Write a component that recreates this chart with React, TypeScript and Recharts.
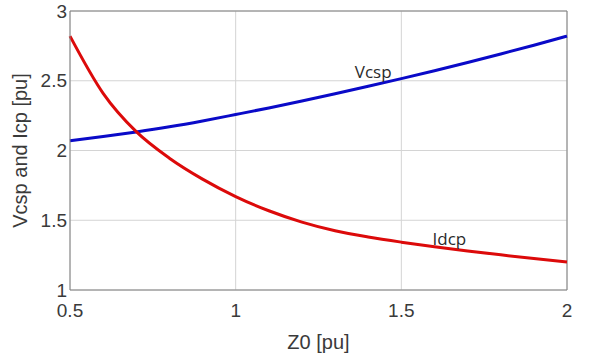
import React from 'react';
import { LineChart, Line, XAxis, YAxis, CartesianGrid, ReferenceLine, ReferenceDot } from 'recharts';

// Z0 [pu] sample points
const z0 = [0.5, 0.6, 0.7, 0.8, 0.9, 1.0, 1.1, 1.2, 1.3, 1.4, 1.5, 1.6, 1.7, 1.8, 1.9, 2.0];
// values
const vcsp = [2.07, 2.1, 2.133, 2.17, 2.212, 2.258, 2.305, 2.355, 2.407, 2.46, 2.515, 2.572, 2.631, 2.692, 2.755, 2.82];
const idcp = [2.82, 2.41, 2.135, 1.945, 1.795, 1.67, 1.568, 1.487, 1.425, 1.38, 1.343, 1.31, 1.28, 1.252, 1.225, 1.2];

const xTicks = [0.5, 1, 1.5, 2];
const yTicks = [1, 1.5, 2, 2.5, 3];

const data = z0.map((z, i) => ({ z, vcsp: vcsp[i], idcp: idcp[i] }));

const font = '"Liberation Sans", Arial, sans-serif';
const tickStyle = { fontSize: 19, fill: '#3a3a3a', fontFamily: font };
const labelStyle = { fontSize: 20, fill: '#3a3a3a', fontFamily: font };

const YLabel = (props: any) => {
  const vb = props.viewBox;
  const cx = 20;
  const cy = vb.y + vb.height / 2;
  return (
    <text x={cx} y={cy} transform={`rotate(-90, ${cx}, ${cy})`} textAnchor="middle" dominantBaseline="central" style={labelStyle}>
      Vcsp and Icp [pu]
    </text>
  );
};

const App = () => {
  return (
    <div style={{ position: 'absolute', left: 0, top: 0, background: '#fff' }}>
      <LineChart width={591} height={359} data={data} margin={{ top: 11, right: 24, left: 0, bottom: 0 }}>
        <CartesianGrid stroke="#d4d4d4" />
        <XAxis
          dataKey="z"
          type="number"
          domain={[0.5, 2]}
          ticks={xTicks}
          tickLine={false}
          tickMargin={8}
          height={69}
          stroke="#808080"
          tick={tickStyle}
          label={{ value: 'Z0 [pu]', position: 'insideBottom', offset: 10, style: labelStyle }}
        />
        <YAxis
          type="number"
          domain={[1, 3]}
          ticks={yTicks}
          tickLine={false}
          tickSize={0}
          tickMargin={3}
          width={70}
          stroke="#808080"
          tick={tickStyle}
          label={<YLabel />}
        />
        <ReferenceLine y={3} stroke="#808080" />
        <ReferenceLine x={2} stroke="#808080" />
        <Line type="monotone" dataKey="vcsp" stroke="#0a0ac8" strokeWidth={3} dot={false} isAnimationActive={false} />
        <Line type="monotone" dataKey="idcp" stroke="#dc0a0a" strokeWidth={3} dot={false} isAnimationActive={false} />
        <ReferenceDot x={1.415} y={2.56} r={0} stroke="none"
          label={{ value: 'Vcsp', position: 'center', style: { fontSize: 17, fill: '#2a2a2a', fontFamily: '"Open Sans", sans-serif' } }} />
        <ReferenceDot x={1.645} y={1.365} r={0} stroke="none"
          label={{ value: 'Idcp', position: 'center', style: { fontSize: 17, fill: '#2a2a2a', fontFamily: '"Open Sans", sans-serif' } }} />
      </LineChart>
    </div>
  );
};

export default App;
